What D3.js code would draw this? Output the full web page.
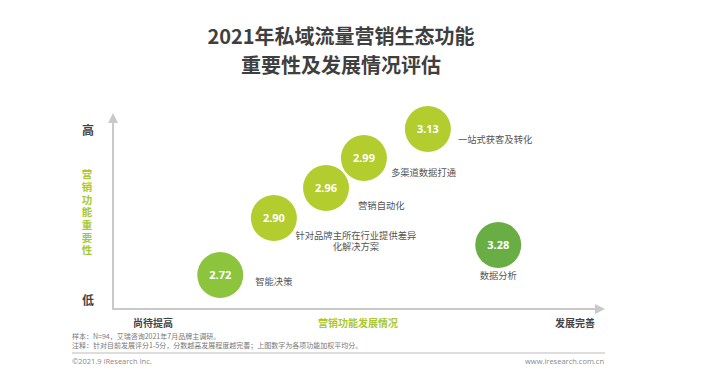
<!DOCTYPE html>
<html><head><meta charset="utf-8">
<script src="https://cdn.jsdelivr.net/npm/d3@7"></script>
<style>
html,body{margin:0;padding:0;background:#fff;}
svg{display:block;font-family:"Noto Sans CJK SC","Noto Sans",sans-serif;}
</style></head>
<body>
<svg id="chart" width="701" height="391"></svg>
<script>
// ---- data ----
const categories = ["智能决策", "针对品牌主所在行业提供差异化解决方案", "营销自动化", "多渠道数据打通", "一站式获客及转化", "数据分析"];
const labelLines = [["智能决策"], ["针对品牌主所在行业提供差异", "化解决方案"], ["营销自动化"], ["多渠道数据打通"], ["一站式获客及转化"], ["数据分析"]];
const scores = [2.72, 2.90, 2.96, 2.99, 3.13, 3.28];
// position on the schematic axes (0–10)
const development = [2.18, 3.27, 4.33, 5.10, 6.40, 7.83];
const importance = [1.73, 4.64, 6.17, 7.70, 9.18, 3.27];
const yTicks = ["低", "高"];
const xTicks = ["尚待提高", "发展完善"];
const titleLines = ["2021年私域流量营销生态功能", "重要性及发展情况评估"];
const notes = ["样本：N=94，艾瑞咨询2021年7月品牌主调研。", "注释：针对目前发展评分1-5分，分数越高发展程度越完善；上图数字为各项功能加权平均分。"];

const svg = d3.select("#chart");
const x0 = 113, x1 = 605, y0 = 309, y1 = 113;
const x = d3.scaleLinear().domain([0, 10]).range([x0, x1]);
const y = d3.scaleLinear().domain([0, 10]).range([y0, y1]);

// title
svg.append("g").selectAll("text").data(titleLines).join("text")
  .attr("x", 341).attr("y", (d, i) => 44 + i * 29)
  .attr("text-anchor", "middle").attr("font-size", 20).attr("font-weight", 700)
  .attr("fill", "#3f3f3f").text(d => d);

// axes
const axisColor = "#c9c9c9";
svg.append("defs").append("marker").attr("id", "arr")
  .attr("viewBox", "0 0 10 10").attr("refX", 5).attr("refY", 5)
  .attr("markerWidth", 5).attr("markerHeight", 5).attr("orient", "auto")
  .append("path").attr("d", "M0,0 L10,5 L0,10 z").attr("fill", axisColor);
svg.append("line").attr("x1", x0).attr("y1", y0).attr("x2", x0).attr("y2", y1 + 5)
  .attr("stroke", axisColor).attr("stroke-width", 2).attr("marker-end", "url(#arr)");
svg.append("line").attr("x1", x0 - 1).attr("y1", y0).attr("x2", x1 - 5).attr("y2", y0)
  .attr("stroke", axisColor).attr("stroke-width", 2).attr("marker-end", "url(#arr)");

// y tick labels
svg.append("text").attr("x", 88).attr("y", 135).attr("text-anchor", "middle")
  .attr("font-size", 12).attr("font-weight", 700).attr("fill", "#444").text(yTicks[1]);
svg.append("text").attr("x", 88).attr("y", 305).attr("text-anchor", "middle")
  .attr("font-size", 12).attr("font-weight", 700).attr("fill", "#444").text(yTicks[0]);
// y title, vertical writing
svg.append("text").attr("x", 87).attr("y", 169)
  .style("writing-mode", "vertical-rl").style("letter-spacing", "2.2px")
  .attr("font-size", 10.5).attr("font-weight", 700).attr("fill", "#a8c935")
  .text("营销功能重要性");

// x labels
svg.append("text").attr("x", 153).attr("y", 327).attr("text-anchor", "middle")
  .attr("font-size", 10).attr("font-weight", 700).attr("fill", "#444").text(xTicks[0]);
svg.append("text").attr("x", 575).attr("y", 327).attr("text-anchor", "middle")
  .attr("font-size", 10).attr("font-weight", 700).attr("fill", "#444").text(xTicks[1]);
svg.append("text").attr("x", 358).attr("y", 327).attr("text-anchor", "middle")
  .attr("font-size", 10).attr("font-weight", 700).attr("fill", "#a8c935").text("营销功能发展情况");

// bubbles
const colors = ["#8cc43e", "#b3cd2e", "#b3cd2e", "#b3cd2e", "#b3cd2e", "#69ae45"];
const data = categories.map((c, i) => ({c, s: scores[i], dx: development[i], im: importance[i], lines: labelLines[i], col: colors[i]}));
const g = svg.append("g").selectAll("g").data(data).join("g")
  .attr("transform", d => `translate(${x(d.dx)},${y(d.im)})`);
g.append("circle").attr("r", 23).attr("fill", d => d.col);
g.append("text").attr("y", 4).attr("text-anchor", "middle").attr("font-size", 11)
  .attr("font-weight", 700).attr("fill", "#fff")
  .style("font-family", "'Open Sans','Noto Sans',sans-serif").text(d => d.s.toFixed(2));

// labels (offsets relative to bubble)
const labelOffsets = [[35, 10, "start"], [82, 20.5, "middle"], [32, 21, "start"], [27, 18, "start"], [30, 14, "start"], [0, 34, "middle"]];
g.each(function(d, i) {
  const [ox, oy, anchor] = labelOffsets[i];
  d3.select(this).append("text").attr("text-anchor", anchor)
    .attr("font-size", 9.3).attr("fill", "#555")
    .selectAll("tspan").data(d.lines).join("tspan")
    .attr("x", ox).attr("y", (t, j) => oy + j * 11.5).text(t => t);
});

// notes
svg.append("g").selectAll("text").data(notes).join("text")
  .attr("x", 72).attr("y", (d, i) => 339 + i * 9).attr("font-size", 7).attr("fill", "#777").text(d => d);
svg.append("line").attr("x1", 72).attr("x2", 605).attr("y1", 353).attr("y2", 353)
  .attr("stroke", "#d2d2d2").attr("stroke-width", 1.5);
svg.append("text").attr("x", 72).attr("y", 364).attr("font-size", 7.5).attr("fill", "#888")
  .style("font-family", "'Open Sans','Noto Sans',sans-serif").text("©2021.9 iResearch Inc.");
svg.append("text").attr("x", 604).attr("y", 364).attr("text-anchor", "end").attr("font-size", 7.5).attr("fill", "#888")
  .style("font-family", "'Open Sans','Noto Sans',sans-serif").text("www.iresearch.com.cn");
</script>
</body></html>
